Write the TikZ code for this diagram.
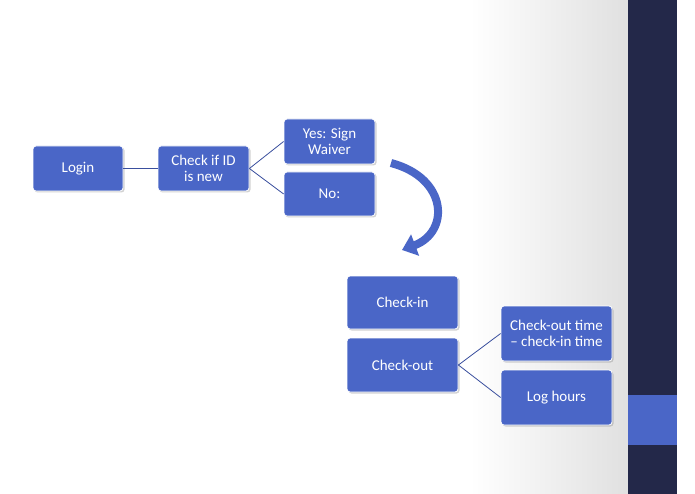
\documentclass[tikz,border=0pt]{standalone}
\usepackage{fontspec}
\setmainfont{Carlito}
\usetikzlibrary{arrows.meta,shadows}
\definecolor{boxblue}{HTML}{4A66C7}
\definecolor{navy}{HTML}{232849}
\definecolor{linec}{HTML}{3A4F9E}
\begin{document}
\begin{tikzpicture}[x=1pt,y=-1pt,
  box/.style={draw=white,line width=0.8pt,fill=boxblue,rounded corners=3pt,text=white,
    font=\fontsize{15}{16}\selectfont,align=center,inner sep=0pt,
    drop shadow={shadow xshift=1.5pt,shadow yshift=-1.5pt,opacity=0.35}},
  conn/.style={draw=linec,line width=0.8pt}]
\useasboundingbox (0,0) rectangle (695,494);
\fill[white] (0,0) rectangle (695,494);
\shade[left color=white,right color=black!12] (470,0) rectangle (628,494);
\fill[navy] (628,0) rectangle (677,494);
\fill[boxblue] (628,395) rectangle (677,445);
\node[box,minimum width=90pt,minimum height=45pt] (login) at (78,168.5) {Login};
\node[box,minimum width=91pt,minimum height=45pt] (check) at (203.5,168.5) {Check if ID\\is new};
\node[box,minimum width=91pt,minimum height=45pt] (yes) at (329.5,141.5) {Yes: Sign\\Waiver};
\node[box,minimum width=91pt,minimum height=44pt] (no) at (329.5,194) {No:};
\node[box,minimum width=111pt,minimum height=53pt] (cin) at (402.5,302.5) {Check-in};
\node[box,minimum width=111pt,minimum height=54pt] (cout) at (402.5,365) {Check-out};
\node[box,minimum width=111pt,minimum height=55pt] (diff) at (556.5,333.5) {Check-out time\\– check-in time};
\node[box,minimum width=111pt,minimum height=55pt] (log) at (556.5,397.5) {Log hours};
\draw[conn] (login.east) -- (check.west);
\draw[conn] (check.east) -- (yes.west);
\draw[conn] (check.east) -- (no.west);
\draw[conn] (cout.east) -- (diff.west);
\draw[conn] (cout.east) -- (log.west);
\coordinate (a1) at (391,163);
\coordinate (a2) at (402,250);
\draw[boxblue,line width=8pt,-{Triangle[width=22pt,length=14pt]}] (a1) .. controls (448,178) and (450,232) .. (a2);
\end{tikzpicture}
\end{document}
